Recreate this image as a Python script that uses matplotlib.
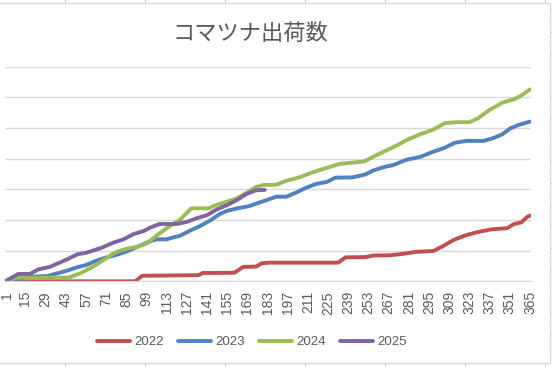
import matplotlib
matplotlib.use("Agg")
import matplotlib.pyplot as plt
import matplotlib.transforms as mtransforms
from matplotlib.lines import Line2D
from matplotlib.patches import Rectangle

# cumulative shipments at breakpoints (day of year, value)
days_2022 = [1, 91, 96, 135, 138, 160, 166, 175, 179, 185, 232, 237, 251, 256, 268, 276,
             286, 298, 304, 312, 321, 330, 339, 349, 354, 359, 363, 365]
vals_2022 = [0, 0, 180, 200, 270, 280, 470, 480, 590, 610, 610, 780, 790, 840, 850, 890,
             960, 990, 1130, 1350, 1510, 1620, 1700, 1730, 1870, 1920, 2100, 2140]

days_2023 = [1, 11, 18, 30, 37, 44, 51, 57, 64, 71, 78, 85, 94, 101, 106, 113, 118, 122,
             129, 136, 143, 150, 155, 162, 170, 176, 183, 189, 196, 203, 210, 217, 224,
             230, 242, 251, 256, 264, 270, 279, 289, 298, 305, 313, 321, 333, 340, 346,
             351, 357, 365]
vals_2023 = [0, 80, 150, 170, 260, 350, 460, 530, 670, 780, 860, 970, 1150, 1300, 1370,
             1370, 1440, 1480, 1650, 1800, 1980, 2200, 2300, 2380, 2450, 2550, 2660, 2760,
             2760, 2900, 3060, 3180, 3240, 3380, 3390, 3490, 3610, 3730, 3790, 3960, 4060,
             4230, 4340, 4520, 4580, 4580, 4680, 4800, 4980, 5100, 5210]

days_2024 = [1, 9, 45, 53, 62, 69, 76, 80, 86, 92, 99, 106, 115, 122, 130, 142, 148, 155,
             162, 168, 175, 180, 189, 196, 205, 215, 224, 233, 242, 250, 257, 265, 272,
             280, 289, 298, 306, 314, 323, 329, 337, 346, 354, 359, 365]
vals_2024 = [0, 120, 120, 260, 480, 690, 910, 990, 1070, 1120, 1230, 1490, 1800, 2000,
             2380, 2380, 2500, 2600, 2710, 2880, 3080, 3140, 3150, 3280, 3390, 3570, 3700,
             3830, 3870, 3910, 4080, 4260, 4420, 4620, 4800, 4950, 5160, 5190, 5190, 5320,
             5590, 5830, 5940, 6060, 6260]

days_2025 = [1, 10, 18, 24, 32, 44, 51, 57, 67, 76, 83, 90, 97, 102, 108, 120, 127, 134,
             141, 148, 155, 162, 168, 175, 181]
vals_2025 = [0, 240, 240, 390, 470, 720, 880, 930, 1080, 1260, 1370, 1540, 1640, 1760,
             1870, 1870, 1940, 2060, 2160, 2350, 2490, 2660, 2840, 2970, 2980]

series = [("2022", days_2022, vals_2022, "#C0504D"),
          ("2023", days_2023, vals_2023, "#4F81BD"),
          ("2024", days_2024, vals_2024, "#9BBB59"),
          ("2025", days_2025, vals_2025, "#8064A2")]

tick_days = list(range(1, 366, 14))

W, H = 552, 367
fig = plt.figure(figsize=(W / 100, H / 100), dpi=100)
fig.patch.set_facecolor("white")

def fx(px):
    return px / W

def fy(py):
    return 1 - py / H

# spreadsheet cells behind the chart object
for cx in range(65, 560, 80):
    fig.add_artist(Line2D([fx(cx), fx(cx)], [0, 1], color="#d4d4d4", lw=0.8, zorder=0))
for k in range(20):
    ry = 10.1 + 21.62 * k
    fig.add_artist(Line2D([0, 1], [fy(ry), fy(ry)], color="#d4d4d4", lw=0.8, zorder=0))

fig.add_artist(Rectangle((fx(-5), fy(363.3)), fx(555) - fx(0), fy(3.3) - fy(363.3),
                         facecolor="white", edgecolor="#d9d9d9", lw=1, zorder=1))

ax = fig.add_axes([fx(4.6), fy(281.3), fx(530.7) - fx(4.6), fy(66.7) - fy(281.3)])
ax.set_zorder(2)
ax.patch.set_alpha(0)

for name, d, v, c in series:
    ax.plot(d, v, color=c, lw=2.8, solid_capstyle="round", solid_joinstyle="round", label=name)

ax.set_xlim(0.5, 365.5)
ax.set_ylim(0, 7000)
ax.set_yticks(range(0, 7001, 1000))
ax.yaxis.grid(True, color="#d9d9d9", lw=1)
ax.set_axisbelow(True)
ax.tick_params(axis="y", left=False, labelleft=False)
ax.set_xticks(tick_days)
labels = ax.set_xticklabels([str(t) for t in tick_days], rotation=90, fontsize=10,
                            color="#595959", family="Liberation Sans", va="top")
ax.tick_params(axis="x", length=0, pad=7)
# nudge the first label so it isn't clipped at the left edge
labels[0].set_transform(labels[0].get_transform() +
                        mtransforms.ScaledTranslation(0.012, 0, fig.dpi_scale_trans))
for s in ["top", "right", "left"]:
    ax.spines[s].set_visible(False)
ax.spines["bottom"].set_color("#d9d9d9")

fig.text(fx(250), fy(33), "コマツナ出荷数", ha="center", va="center", fontsize=16,
         color="#595959", family=["Noto Sans CJK JP", "DejaVu Sans"])

leg = fig.legend(loc="center", bbox_to_anchor=(fx(252), fy(342)), ncol=4, frameon=False,
                 handlelength=2.5, handletextpad=0.3, columnspacing=1.1,
                 prop={"family": "Liberation Sans", "size": 9.5})
for t in leg.get_texts():
    t.set_color("#595959")
for h in leg.get_lines():
    h.set_linewidth(2.8)

fig.savefig("out.png", dpi=100)
